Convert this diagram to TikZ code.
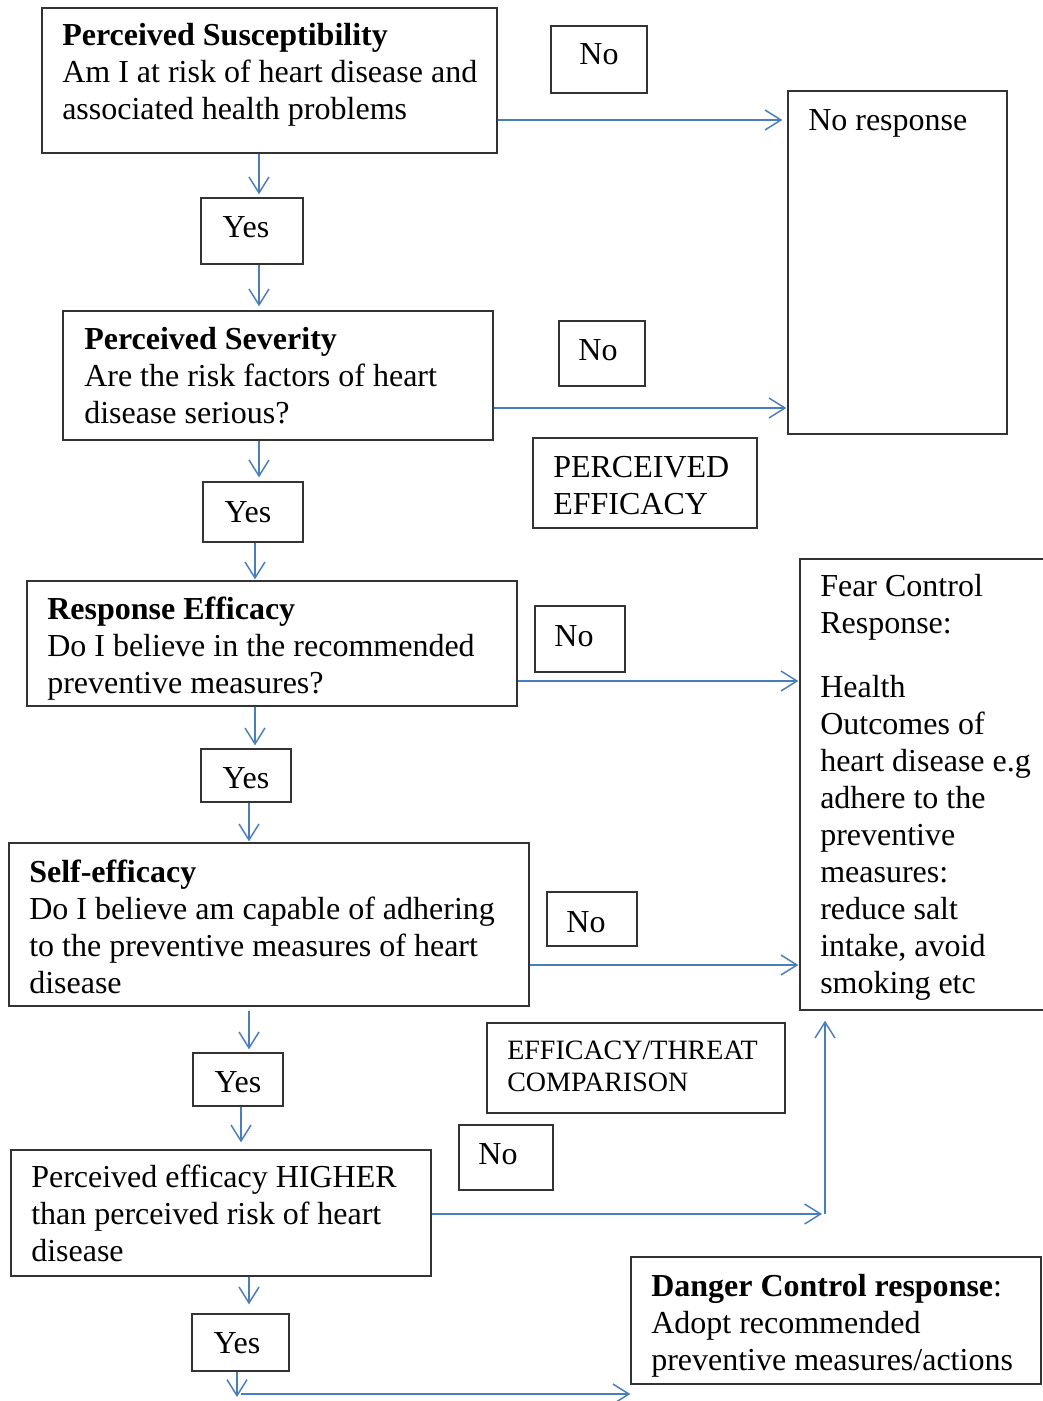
\documentclass[tikz,border=0pt]{standalone}
\usepackage{fontspec}
\setmainfont{Liberation Serif}
\usetikzlibrary{arrows.meta,fit}
\definecolor{arrowblue}{HTML}{4A7EBB}
\definecolor{boxline}{HTML}{333333}

% \flowbox{name}{x1}{y1}{x2}{y2}: a framed rectangle between two corners
\newcommand\flowbox[5]{%
  \path (#2,#3) coordinate (#1-nw) (#4,#5) coordinate (#1-se);
  \node[box, fit=(#1-nw)(#1-se)] (#1) {};}

\begin{document}
\begin{tikzpicture}[x=0.75pt,y=-0.75pt,
  box/.style={draw=boxline, line width=1pt, inner sep=0pt},
  % multi-line texts are placed by the baseline of their last line
  txt/.style={anchor=base west, inner sep=0pt, align=left,
    font=\fontsize{24}{27.75}\selectfont},
  small/.style={anchor=base west, inner sep=0pt, align=left,
    font=\fontsize{21}{24}\selectfont},
  answer/.style={anchor=base, inner sep=0pt, font=\fontsize{24}{27.75}\selectfont},
  arr/.style={draw=arrowblue, line width=1.1pt,
    -{Straight Barb[length=12pt,width=15pt]}},
  plain/.style={draw=arrowblue, line width=1.1pt}]

\useasboundingbox (0,0) rectangle (1042,1401);

% ---- boxes ----
\flowbox{sus}{42}{8}{497}{153}
\flowbox{noA}{551}{26}{647}{93}
\flowbox{noresp}{788}{91}{1007}{434}
\flowbox{yesA}{201}{198}{303}{264}
\flowbox{sev}{63}{311}{493}{440}
\flowbox{noB}{559}{321}{645}{386}
\flowbox{peff}{533}{438}{757}{528}
\flowbox{yesB}{203}{482}{303}{542}
\flowbox{reff}{27}{581}{517}{706}
\flowbox{noC}{535}{606}{625}{672}
\flowbox{fear}{800}{559}{1052}{1010}
\flowbox{yesC}{201}{749}{291}{802}
\flowbox{self}{9}{843}{529}{1006}
\flowbox{noD}{547}{892}{637}{946}
\flowbox{comp}{487}{1023}{785}{1113}
\flowbox{yesD}{193}{1053}{283}{1106}
\flowbox{noE}{459}{1125}{553}{1190}
\flowbox{high}{11}{1150}{431}{1276}
\flowbox{yesE}{192}{1314}{289}{1371}
\flowbox{danger}{631}{1257}{1041}{1384}

% ---- texts ----
\node[txt] (susT) at (62,120) {\textbf{Perceived Susceptibility}\\Am I at risk of heart disease and\\associated health problems};
\node[answer] (noAT) at (599,65) {No};
\node[txt] (norespT) at (808,131) {No response};
\node[answer] (yesAT) at (246,238) {Yes};
\node[txt] (sevT) at (84,423) {\textbf{Perceived Severity}\\Are the risk factors of heart\\disease serious?};
\node[answer] (noBT) at (598,360) {No};
\node[txt] (peffT) at (553,514) {PERCEIVED\\EFFICACY};
\node[answer] (yesBT) at (248,522) {Yes};
\node[txt] (reffT) at (47,693) {\textbf{Response Efficacy}\\Do I believe in the recommended\\preventive measures?};
\node[answer] (noCT) at (574,646) {No};
\node[txt] (fearT) at (820,993) {Fear Control\\Response:\\[20pt]Health\\Outcomes of\\heart disease e.g\\adhere to the\\preventive\\measures:\\reduce salt\\intake, avoid\\smoking etc};
\node[answer] (yesCT) at (246,788) {Yes};
\node[txt] (selfT) at (29,993) {\textbf{Self-efficacy}\\Do I believe am capable of adhering\\to the preventive measures of heart\\disease};
\node[answer] (noDT) at (586,932) {No};
\node[small] (compT) at (507,1091) {EFFICACY/THREAT\\COMPARISON};
\node[answer] (yesDT) at (238,1092) {Yes};
\node[answer] (noET) at (498,1164) {No};
\node[txt] (highT) at (31,1261) {Perceived efficacy HIGHER\\than perceived risk of heart\\disease};
\node[answer] (yesET) at (237,1353) {Yes};
\node[txt] (dangerT) at (651,1370) {\textbf{Danger Control response}:\\Adopt recommended\\preventive measures/actions};

% ---- free ends of the connectors ----
\coordinate (turnA) at (822,1214);
\coordinate (riseA) at (825,1214);
\coordinate (dropA) at (237,1397);
\coordinate (runA) at (241,1394);

% ---- "No" branches ----
\draw[arr, shorten >=3.75pt] (sus.east |- 0,120) -- (noresp.west |- 0,120);
\draw[arr, shorten >=0.75pt] (sev.east |- 0,408) -- (noresp.west |- 0,408);
\draw[arr, shorten >=0.75pt] (reff.east |- 0,681) -- (fear.west |- 0,681);
\draw[arr, shorten >=0.75pt] (self.east |- 0,965) -- (fear.west |- 0,965);
\draw[arr] (high.east |- turnA) -- (turnA);
\draw[arr, shorten >=7.5pt] (riseA) -- (fear.south -| riseA);

% ---- "Yes" chain ----
\draw[arr, shorten >=2.25pt] (sus.south -| 259,0) -- (yesA.north -| 259,0);
\draw[arr, shorten >=3pt] (yesA.south -| 259,0) -- (sev.north -| 259,0);
\draw[arr, shorten >=3pt] (sev.south -| 259,0) -- (yesB.north -| 259,0);
\draw[arr, shorten >=0.75pt] (yesB.south -| 255,0) -- (reff.north -| 255,0);
\draw[arr, shorten >=2.25pt] (reff.south -| 255,0) -- (yesC.north -| 255,0);
\draw[arr, shorten >=0.75pt] (yesC.south -| 249,0) -- (self.north -| 249,0);
\draw[arr, shorten <=3pt, shorten >=2.25pt] (self.south -| 249,0) -- (yesD.north -| 249,0);
\draw[arr, shorten >=5.25pt] (yesD.south -| 241,0) -- (high.north -| 241,0);
\draw[arr, shorten >=6.75pt] (high.south -| 249,0) -- (yesE.north -| 249,0);
\draw[arr] (yesE.south -| dropA) -- (dropA);
\draw[arr] (runA) -- (danger.west |- runA);

\end{tikzpicture}
\end{document}
